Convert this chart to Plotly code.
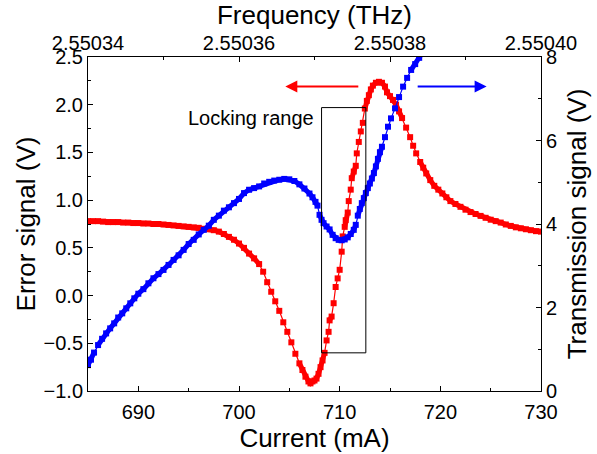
import math
import plotly.graph_objects as go

# ---- data ----
red_current = [685.0, 685.5, 686.0, 686.5, 687.0, 687.5, 688.0, 688.5, 689.0, 689.5,
               690.0, 690.5, 691.0, 691.5, 692.0, 692.5, 693.0, 693.5, 694.0, 694.5,
               695.0, 695.5, 696.0, 696.5, 697.0, 697.5, 698.0, 698.5, 699.0, 699.5,
               700.0, 700.5, 701.0, 701.5, 702.0, 702.4, 702.8, 703.2, 703.6, 704.0,
               704.4, 704.8, 705.2, 705.6, 706.0, 706.3, 706.6, 706.9, 707.1, 707.3,
               707.5, 707.7, 707.9, 708.1, 708.3, 708.5, 708.7, 708.9, 709.0, 709.2,
               709.4, 709.6, 709.8, 710.0, 710.2, 710.3, 710.5, 710.6, 710.8, 710.9,
               711.1, 711.2, 711.4, 711.6, 711.7, 711.9, 712.1, 712.3, 712.5, 712.7,
               712.9, 713.1, 713.3, 713.6, 713.9, 714.2, 714.5, 714.7, 715.0, 715.3,
               715.6, 715.9, 716.2, 716.6, 717.0, 717.3, 717.6, 718.0, 718.3, 718.6,
               719.0, 719.4, 719.8, 720.2, 720.6, 721.0, 721.5, 722.0, 722.5, 723.0,
               723.5, 724.0, 724.5, 725.0, 725.5, 726.0, 726.5, 727.0, 727.5, 728.0,
               728.5, 729.0, 729.5, 730.0]
error_signal = [0.78, 0.78, 0.78, 0.775, 0.77, 0.77, 0.77, 0.765, 0.765, 0.76,
                0.76, 0.755, 0.755, 0.75, 0.75, 0.745, 0.74, 0.735, 0.73, 0.725,
                0.72, 0.715, 0.71, 0.70, 0.695, 0.685, 0.67, 0.645, 0.615, 0.585,
                0.545, 0.50, 0.44, 0.39, 0.33, 0.25, 0.14, 0.04, -0.06, -0.16,
                -0.28, -0.38, -0.49, -0.61, -0.71, -0.78, -0.85, -0.90, -0.92, -0.90,
                -0.89, -0.87, -0.82, -0.75, -0.68, -0.60, -0.47, -0.38, -0.26, -0.22,
                -0.08, 0.09, 0.18, 0.27, 0.46, 0.62, 0.72, 0.79, 0.87, 0.99,
                1.11, 1.23, 1.30, 1.36, 1.49, 1.61, 1.72, 1.81, 1.96, 2.04,
                2.10, 2.16, 2.20, 2.23, 2.24, 2.23, 2.19, 2.13, 2.09, 2.05,
                2.00, 1.93, 1.86, 1.76, 1.66, 1.57, 1.49, 1.40, 1.34, 1.28,
                1.21, 1.15, 1.11, 1.07, 1.03, 0.99, 0.96, 0.93, 0.90, 0.875,
                0.855, 0.835, 0.815, 0.795, 0.78, 0.765, 0.745, 0.73, 0.715, 0.705,
                0.695, 0.685, 0.675, 0.67]

blue_current = [685.0, 685.3, 685.6, 686.0, 686.4, 686.8, 687.2, 687.6, 688.0, 688.4,
                688.8, 689.2, 689.6, 690.0, 690.5, 691.0, 691.5, 692.0, 692.5, 693.0,
                693.5, 694.0, 694.5, 695.0, 695.5, 696.0, 696.5, 697.0, 697.5, 698.0,
                698.5, 699.0, 699.5, 700.0, 700.5, 701.0, 701.5, 702.0, 702.5, 703.0,
                703.5, 704.0, 704.5, 705.0, 705.5, 706.0, 706.5, 707.0, 707.3, 707.6,
                707.8, 708.0, 708.2, 708.4, 708.7, 709.0, 709.3, 709.6, 709.9, 710.2,
                710.5, 710.8, 711.1, 711.4, 711.6, 711.8, 712.0, 712.2, 712.4, 712.6,
                712.8, 713.0, 713.2, 713.4, 713.6, 713.8, 714.0, 714.2, 714.5, 714.8,
                715.1, 715.5, 715.9, 716.3, 716.7, 717.1, 717.5, 717.9, 718.2]
transmission = [0.62, 0.75, 0.92, 1.10, 1.25, 1.38, 1.50, 1.62, 1.76, 1.86,
                1.98, 2.10, 2.22, 2.33, 2.44, 2.58, 2.70, 2.80, 2.90, 3.02,
                3.14, 3.25, 3.38, 3.52, 3.62, 3.75, 3.86, 3.96, 4.10, 4.20,
                4.32, 4.40, 4.50, 4.60, 4.74, 4.82, 4.86, 4.90, 4.97, 5.01,
                5.04, 5.06, 5.08, 5.07, 5.03, 4.95, 4.85, 4.73, 4.64, 4.53,
                4.44, 4.22, 4.10, 4.02, 3.94, 3.87, 3.74, 3.66, 3.62, 3.61,
                3.63, 3.68, 3.76, 3.86, 3.98, 4.20, 4.36, 4.50, 4.62, 4.74,
                4.86, 4.97, 5.09, 5.22, 5.38, 5.56, 5.72, 5.85, 6.08, 6.33,
                6.53, 6.77, 7.04, 7.29, 7.50, 7.69, 7.83, 7.98, 8.10]

freq_ticks = [2.55034, 2.55036, 2.55038, 2.55040]
freq_labels = ["2.55034", "2.55036", "2.55038", "2.55040"]
freq_minor = [2.55035, 2.55037, 2.55039]

X_RANGE = [685, 730]
Y1_RANGE = [-1, 2.5]
Y2_RANGE = [0, 8]

W, H = 597, 454
M = dict(l=88, r=56, t=57, b=63)
PW = W - M["l"] - M["r"]
PH = H - M["t"] - M["b"]


def dense_segments(xs, ys, yrange, max_px=8.0):
    """Copy of the series with breaks where consecutive points are far apart
    on screen, so a thick band is drawn only where the samples are dense."""
    sx = PW / (X_RANGE[1] - X_RANGE[0])
    sy = PH / (yrange[1] - yrange[0])
    ox, oy = [xs[0]], [ys[0]]
    for i in range(1, len(xs)):
        d = math.hypot((xs[i] - xs[i - 1]) * sx, (ys[i] - ys[i - 1]) * sy)
        if d > max_px:
            ox.append(None)
            oy.append(None)
        ox.append(xs[i])
        oy.append(ys[i])
    return ox, oy


FONT = "Arial, Liberation Sans, sans-serif"
TICKF = dict(family=FONT, size=20, color="black")
TITLEF = dict(family=FONT, size=26, color="black")
RED, BLUE = "#ff0000", "#0000ff"

fig = go.Figure()

for xs, ys, col, yax, yr in [(red_current, error_signal, RED, "y", Y1_RANGE),
                             (blue_current, transmission, BLUE, "y2", Y2_RANGE)]:
    bx, by = dense_segments(xs, ys, yr)
    fig.add_trace(go.Scatter(
        x=bx, y=by, mode="lines", line=dict(color=col, width=5),
        connectgaps=False, showlegend=False, hoverinfo="skip",
        xaxis="x", yaxis=yax))
    fig.add_trace(go.Scatter(
        x=xs, y=ys, mode="lines+markers",
        line=dict(color=col, width=1.2),
        marker=dict(symbol="square", size=6, color=col, line=dict(width=0)),
        showlegend=False, xaxis="x", yaxis=yax))

# invisible trace so the top frequency axis is drawn
fig.add_trace(go.Scatter(
    x=freq_ticks, y=[None] * len(freq_ticks), mode="markers",
    showlegend=False, hoverinfo="skip", xaxis="x2", yaxis="y"))

common = dict(showgrid=False, zeroline=False, showline=True, linecolor="black",
              linewidth=1, ticks="inside", ticklen=5, tickwidth=1, tickcolor="black",
              tickfont=TICKF, automargin=False)

fig.update_layout(
    width=W, height=H,
    margin=M,
    paper_bgcolor="white", plot_bgcolor="white",
    xaxis=dict(range=X_RANGE, dtick=10, tick0=690, ticklabelstandoff=3,
               minor=dict(ticks="inside", ticklen=3, dtick=5, tick0=685, tickcolor="black"),
               title=dict(text="Current (mA)", font=TITLEF, standoff=3),
               **common),
    xaxis2=dict(overlaying="x", side="top", anchor="y",
                range=[2.55034, 2.55040], tickmode="array",
                tickvals=freq_ticks, ticktext=freq_labels, ticklabelstandoff=-2,
                minor=dict(ticks="inside", ticklen=3, tickvals=freq_minor, tickcolor="black"),
                title=dict(text="Frequency (THz)", font=TITLEF, standoff=4),
                **common),
    yaxis=dict(range=Y1_RANGE, dtick=0.5, tick0=0, tickformat=".1f",
               minor=dict(ticks="inside", ticklen=3, dtick=0.25, tick0=0, tickcolor="black"),
               title=dict(text="Error signal (V)", font=TITLEF, standoff=0),
               **common),
    yaxis2=dict(overlaying="y", side="right", anchor="x",
                range=Y2_RANGE, dtick=2, tick0=0,
                minor=dict(ticks="inside", ticklen=3, dtick=1, tick0=0, tickcolor="black"),
                title=dict(text="Transmission signal (V)", font=TITLEF, standoff=11),
                **common),
)

# locking range box
fig.add_shape(type="rect", xref="x", yref="y", x0=708.2, x1=712.6, y0=-0.6, y1=1.97,
              line=dict(color="black", width=1), fillcolor="rgba(0,0,0,0)")
fig.add_annotation(x=707.6, y=1.86, xref="x", yref="y", text="Locking range",
                   showarrow=False, xanchor="right", yanchor="middle",
                   font=dict(family=FONT, size=20, color="black"))

# direction arrows
fig.add_annotation(x=704.6, y=2.19, ax=712.0, ay=2.19, xref="x", yref="y",
                   axref="x", ayref="y", text="", showarrow=True,
                   arrowhead=2, arrowsize=1.2, arrowwidth=2, arrowcolor=RED)
fig.add_annotation(x=724.6, y=2.19, ax=717.6, ay=2.19, xref="x", yref="y",
                   axref="x", ayref="y", text="", showarrow=True,
                   arrowhead=2, arrowsize=1.2, arrowwidth=2, arrowcolor=BLUE)

fig.write_html("out.html",
               config={"displayModeBar": False},
               post_script="document.body.style.margin='0px';"
                           "document.documentElement.style.overflow='hidden';")
